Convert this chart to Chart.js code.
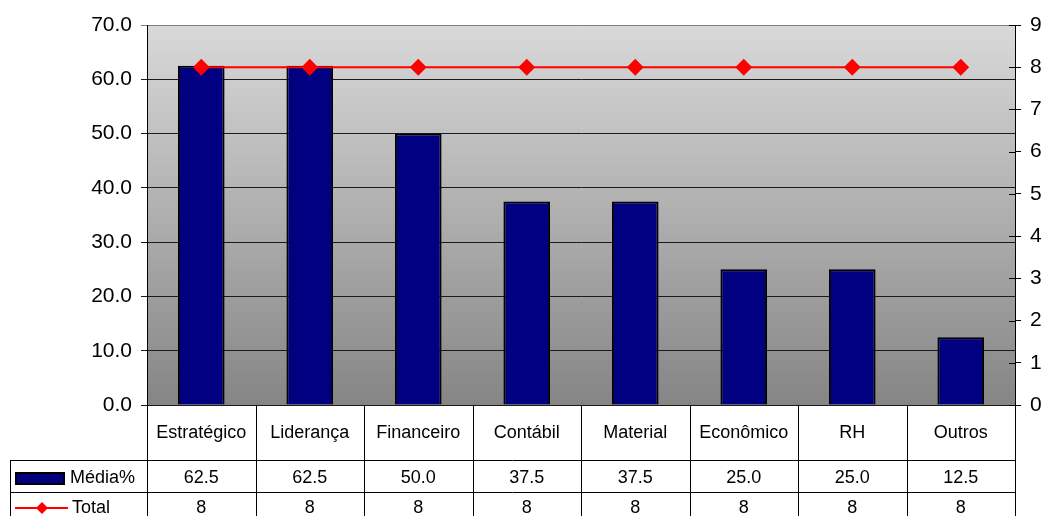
<!DOCTYPE html>
<html>
<head>
<meta charset="utf-8">
<script src="https://cdn.jsdelivr.net/npm/chart.js@4"></script>
<style>
  html, body { margin: 0; padding: 0; background: #fff; }
  #wrap { width: 1045px; height: 516px; }
</style>
</head>
<body>
<div id="wrap"><canvas id="chart" width="1045" height="516"></canvas></div>
<script>
const categories = ['Estratégico', 'Liderança', 'Financeiro', 'Contábil', 'Material', 'Econômico', 'RH', 'Outros'];
const mediaPct = [62.5, 62.5, 50.0, 37.5, 37.5, 25.0, 25.0, 12.5];
const total = [8, 8, 8, 8, 8, 8, 8, 8];

const FONT = '"Liberation Sans", Arial, sans-serif';
const NAVY = '#000080';

// gray gradient behind the plot, plus inner half of right-axis ticks
const bgPlugin = {
    id: 'plotBg',
    beforeDraw(chart) {
        const { ctx, chartArea: a } = chart;
        const g = ctx.createLinearGradient(0, a.top, 0, a.bottom);
        g.addColorStop(0, '#d9d9d9');
        g.addColorStop(1, '#858585');
        ctx.save();
        ctx.fillStyle = g;
        ctx.fillRect(a.left, a.top, a.right - a.left, a.bottom - a.top);
        ctx.restore();
    },
    afterDraw(chart) {
        const { ctx, chartArea: a } = chart;
        const ys = chart.scales.y1;
        ctx.save();
        ctx.strokeStyle = '#000';
        ctx.lineWidth = 1;
        ctx.beginPath();
        ys.ticks.forEach(t => {
            const y = Math.round(ys.getPixelForValue(t.value)) + 0.5;
            ctx.moveTo(a.right - 6, y); ctx.lineTo(a.right, y);
        });
        ctx.stroke();
        ctx.restore();
    }
};

// data table under the x axis
const tablePlugin = {
    id: 'dataTable',
    afterDraw(chart) {
        const { ctx, chartArea: a } = chart;
        const xs = chart.scales.x;
        const half = (xs.getPixelForValue(1) - xs.getPixelForValue(0)) / 2;
        const y0 = a.bottom, y1 = 460, y2 = 492, y3 = 530;
        const legendLeft = 10;

        ctx.save();
        ctx.strokeStyle = '#000';
        ctx.lineWidth = 1;
        ctx.beginPath();
        // vertical lines between categories
        for (let i = 0; i <= categories.length; i++) {
            const x = Math.round(xs.getPixelForValue(0) - half + i * 2 * half) + 0.5;
            ctx.moveTo(x, y0); ctx.lineTo(x, y3);
        }
        ctx.moveTo(legendLeft + 0.5, y1); ctx.lineTo(legendLeft + 0.5, y3);
        ctx.moveTo(legendLeft, y1 + 0.5); ctx.lineTo(a.right, y1 + 0.5);
        ctx.moveTo(legendLeft, y2 + 0.5); ctx.lineTo(a.right, y2 + 0.5);
        ctx.stroke();

        ctx.fillStyle = '#000';
        ctx.textAlign = 'center';
        ctx.textBaseline = 'middle';
        ctx.font = '18px ' + FONT;
        categories.forEach((c, i) => {
            const cx = xs.getPixelForValue(i);
            ctx.fillText(c, cx, 433);
            ctx.fillText(mediaPct[i].toFixed(1), cx, 478);
            ctx.fillText(String(total[i]), cx, 508);
        });

        // legend keys
        ctx.fillStyle = NAVY;
        ctx.fillRect(16, 473, 48, 11);
        ctx.lineWidth = 2;
        ctx.strokeRect(16, 473, 48, 11);
        ctx.strokeStyle = '#ff0000';
        ctx.beginPath();
        ctx.moveTo(15, 508); ctx.lineTo(68, 508);
        ctx.stroke();
        ctx.fillStyle = '#ff0000';
        ctx.beginPath();
        ctx.moveTo(42, 502); ctx.lineTo(48, 508); ctx.lineTo(42, 514); ctx.lineTo(36, 508);
        ctx.closePath();
        ctx.fill();

        ctx.fillStyle = '#000';
        ctx.textAlign = 'left';
        ctx.fillText('Média%', 70, 478);
        ctx.fillText('Total', 72, 508);
        ctx.restore();
    }
};

new Chart(document.getElementById('chart'), {
    data: {
        labels: categories,
        datasets: [
            {
                type: 'line',
                label: 'Total',
                data: total,
                yAxisID: 'y1',
                borderColor: '#ff0000',
                backgroundColor: '#ff0000',
                borderWidth: 2,
                pointStyle: 'rectRot',
                pointRadius: 7,
                pointHoverRadius: 7,
                fill: false,
                order: 0
            },
            {
                type: 'bar',
                label: 'Média%',
                data: mediaPct,
                yAxisID: 'y',
                backgroundColor: NAVY,
                borderColor: '#000',
                borderWidth: 2,
                barPercentage: 0.43,
                categoryPercentage: 1,
                order: 1
            }
        ]
    },
    options: {
        responsive: false,
        animation: false,
        layout: { padding: { top: 25, left: 0, right: 0, bottom: 0 } },
        plugins: {
            legend: { display: false },
            tooltip: { enabled: false }
        },
        scales: {
            x: {
                offset: true,
                grid: { display: false, drawTicks: false },
                border: { display: false },
                ticks: { display: false },
                afterFit(scale) { scale.height = 111; }
            },
            y: {
                position: 'left',
                min: 0,
                max: 70,
                ticks: {
                    stepSize: 10,
                    color: '#000',
                    font: { family: FONT, size: 21 },
                    padding: 9,
                    callback: v => v.toFixed(1)
                },
                grid: {
                    color: ctx => ctx.tick && ctx.tick.value === 70 ? '#7f7f7f' : '#1a1a1a',
                    lineWidth: 1,
                    tickLength: 6
                },
                border: { display: true, color: '#000', width: 1 },
                afterFit(scale) { scale.width = 147; }
            },
            y1: {
                position: 'right',
                min: 0,
                max: 9,
                ticks: {
                    stepSize: 1,
                    color: '#000',
                    font: { family: FONT, size: 21 },
                    padding: 9
                },
                grid: {
                    drawOnChartArea: false,
                    color: '#000',
                    tickLength: 6
                },
                border: { display: true, color: '#000', width: 1 },
                afterFit(scale) { scale.width = 30; }
            }
        }
    },
    plugins: [bgPlugin, tablePlugin]
});
</script>
</body>
</html>
